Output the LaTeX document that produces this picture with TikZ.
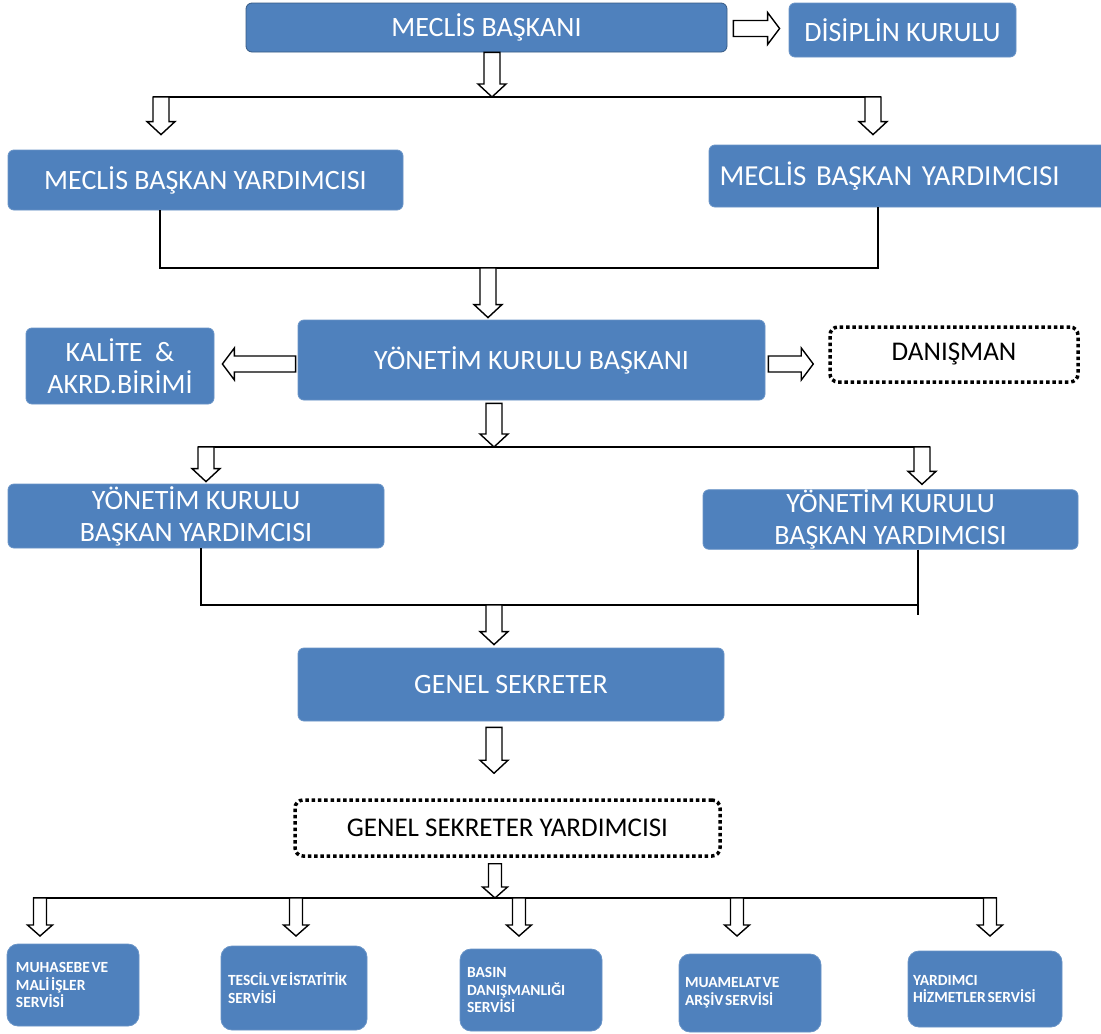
\documentclass[tikz,border=0pt]{standalone}
\usepackage{fontspec}
\setmainfont{Carlito}
\usetikzlibrary{calc}
\definecolor{boxblue}{HTML}{4F81BD}
\tikzset{
 box/.style={rectangle, rounded corners=6pt, fill=boxblue, draw=boxblue!85!white, line width=0.8pt, text=white, inner sep=0pt, align=center, font=\fontsize{28}{32}\selectfont},
 dotbox/.style={rectangle, rounded corners=8pt, draw=black, line width=3.5pt, dash pattern=on 3.5pt off 2.8pt, inner sep=0pt, text=black, font=\fontsize{27}{32}\selectfont},
 sbox/.style={box, rounded corners=11pt, align=left, font=\bfseries\fontsize{15.5}{17.5}\selectfont, execute at begin node={\spaceskip=0.1em\relax}},
 blk/.style={draw=black, fill=white, line width=1.4pt, line join=miter},
 ln/.style={draw=black, line width=1.5pt},
}
\newcommand\vblk[2]{\draw[blk] let \p1=#1, \p2=#2 in (\x1-8pt,\y1) -- (\x1+8pt,\y1) -- (\x1+8pt,\y2+13pt) -- (\x1+14pt,\y2+13pt) -- (\x1,\y2) -- (\x1-14pt,\y2+13pt) -- (\x1-8pt,\y2+13pt) -- cycle;}
\newcommand\vblks[2]{\draw[blk] let \p1=#1, \p2=#2 in (\x1-6.5pt,\y1) -- (\x1+6.5pt,\y1) -- (\x1+6.5pt,\y2+11pt) -- (\x1+12.5pt,\y2+11pt) -- (\x1,\y2) -- (\x1-12.5pt,\y2+11pt) -- (\x1-6.5pt,\y2+11pt) -- cycle;}
\newcommand\rblk[2]{\draw[blk] let \p1=#1, \p2=#2 in (\x1,\y1+8pt) -- (\x2-12pt,\y1+8pt) -- (\x2-12pt,\y1+16pt) -- (\x2,\y1) -- (\x2-12pt,\y1-16pt) -- (\x2-12pt,\y1-8pt) -- (\x1,\y1-8pt) -- cycle;}
\newcommand\lblk[2]{\draw[blk] let \p1=#1, \p2=#2 in (\x1,\y1+8pt) -- (\x2+12pt,\y1+8pt) -- (\x2+12pt,\y1+16pt) -- (\x2,\y1) -- (\x2+12pt,\y1-16pt) -- (\x2+12pt,\y1-8pt) -- (\x1,\y1-8pt) -- cycle;}
\begin{document}
\begin{tikzpicture}[x=1pt,y=-1pt]
\useasboundingbox[fill=white] (0,0) rectangle (1101,1034);
% boxes
\node[box, draw=boxblue!70!black, minimum width=481pt, minimum height=49pt] (mb) at (486.5,27.5) {MECLİS BAŞKANI};
\node[box, minimum width=227pt, minimum height=54pt] (dk) at (902.5,30) {DİSİPLİN KURULU};
\node[box, minimum width=395pt, minimum height=60pt] (mby1) at (205.5,180) {MECLİS BAŞKAN YARDIMCISI};
\node[box, minimum width=401pt, minimum height=62pt, text width=380pt, align=left, font=\fontsize{29}{32}\selectfont] (mby2) at (909.5,176) {MECLİS BAŞKAN YARDIMCISI};
\node[box, minimum width=467pt, minimum height=80pt] (ykb) at (531.5,360) {YÖNETİM KURULU BAŞKANI};
\node[box, minimum width=188pt, minimum height=76pt] (kal) at (120,366) {KALİTE~~\&\\AKRD.BİRİMİ};
\node[dotbox, minimum width=248pt, minimum height=55pt] (dan) at (954,354.5) {DANIŞMAN};
\node[box, minimum width=376pt, minimum height=64pt] (ykby1) at (196,516) {YÖNETİM KURULU\\BAŞKAN YARDIMCISI};
\node[box, minimum width=375pt, minimum height=59pt] (ykby2) at (890.5,519.5) {YÖNETİM KURULU\\BAŞKAN YARDIMCISI};
\node[box, minimum width=426pt, minimum height=73pt] (gs) at (511,684.5) {GENEL SEKRETER};
\node[dotbox, minimum width=425pt, minimum height=56pt] (gsy) at (507.5,828) {GENEL SEKRETER YARDIMCISI};
\node[sbox, minimum width=132pt, minimum height=82pt, text width=114pt] (s1) at (73,985) {MUHASEBE VE\\MALİ İŞLER\\SERVİSİ};
\node[sbox, minimum width=146pt, minimum height=84pt, text width=132pt] (s2) at (294,988) {TESCİL VE İSTATİTİK\\SERVİSİ};
\node[sbox, minimum width=142pt, minimum height=82pt, text width=128pt] (s3) at (531,990) {BASIN\\DANIŞMANLIĞI\\SERVİSİ};
\node[sbox, minimum width=142pt, minimum height=78pt, text width=130pt] (s4) at (750,993) {MUAMELAT VE\\ARŞİV SERVİSİ};
\node[sbox, minimum width=154pt, minimum height=76pt, text width=144pt] (s5) at (985,989) {YARDIMCI\\HİZMETLER SERVİSİ};
% junction coordinates
\coordinate (j1) at (489,97); \coordinate (j1l) at (161,97); \coordinate (j1r) at (873,97);
\coordinate (j2) at (488,268); \coordinate (j2l) at (160,268); \coordinate (j2r) at (878,268);
\coordinate (j3) at (494,447); \coordinate (j3l) at (206,447); \coordinate (j3r) at (922,447);
\coordinate (j4) at (494,605); \coordinate (j4l) at (201,605); \coordinate (j4r) at (918,605);
\coordinate (x5) at (494,750);
\coordinate (j6) at (495,898);
\coordinate (b1) at (40,898); \coordinate (b2) at (296,898); \coordinate (b3) at (519,898); \coordinate (b4) at (737,898); \coordinate (b5) at (990,898);
\coordinate (tl) at (0,936);
% lines
\draw[ln] ($(j1l)+(-8,0)$) -- ($(j1r)+(8,0)$);
\draw[ln] (mby1.south -| j2l) -- (j2l) -- (j2r) -- (mby2.south -| j2r);
\draw[ln] ($(j3l)+(-8,0)$) -- ($(j3r)+(8,0)$);
\draw[ln] (ykby1.south -| j4l) -- (j4l) -- (j4r);
\draw[ln] (ykby2.south -| j4r) -- ($(j4r)+(0,10)$);
\draw[ln] ($(b1)+(-7,0)$) -- ($(b5)+(7,0)$);
% block arrows
\rblk{($(mb.east)+(6,1)$)}{($(dk.west)+(-9,0)$)}
\vblk{($(mb.south -| j1)+(3,0)$)}{(j1)}
\vblk{(j1l)}{($(mby1.north -| j1l)+(0,-15)$)}
\vblk{(j1r)}{($(mby2.north -| j1r)+(0,-10)$)}
\vblk{(j2)}{($(ykb.north -| j2)+(0,-2)$)}
\lblk{($(ykb.west)+(-2,4)$)}{($(kal.east)+(8,0)$)}
\rblk{($(ykb.east)+(3,4)$)}{($(dan.west)+(-15,0)$)}
\vblk{($(ykb.south -| j3)+(0,3)$)}{(j3)}
\vblk{(j3l)}{($(ykby1.north -| j3l)+(0,-2)$)}
\vblk{(j3r)}{($(ykby2.north -| j3r)+(0,-5)$)}
\vblk{(j4)}{($(gs.north -| j4)+(0,-3)$)}
\vblk{($(gs.south -| x5)+(0,6)$)}{($(gsy.north -| x5)+(0,-25)$)}
\vblks{($(gsy.south -| j6)+(0,6)$)}{(j6)}
\vblks{(b1)}{(b1 |- tl)}
\vblks{(b2)}{(b2 |- tl)}
\vblks{(b3)}{(b3 |- tl)}
\vblks{(b4)}{(b4 |- tl)}
\vblks{(b5)}{(b5 |- tl)}
\end{tikzpicture}
\end{document}
